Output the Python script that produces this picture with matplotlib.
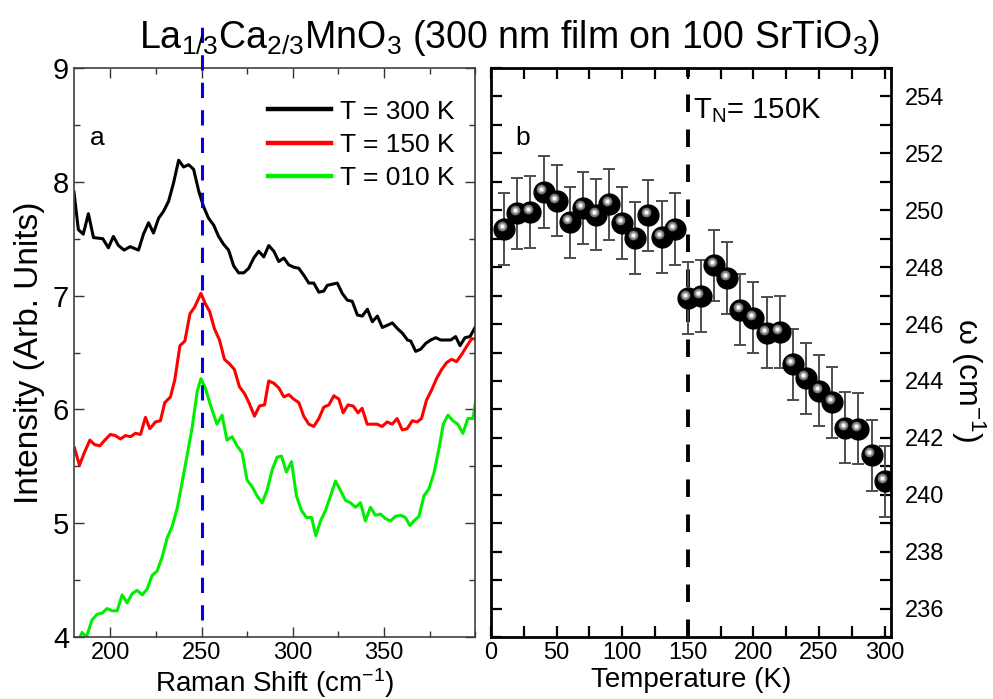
import matplotlib
matplotlib.use('Agg')
import matplotlib.pyplot as plt
from matplotlib.ticker import MultipleLocator
from matplotlib.transforms import offset_copy
import numpy as np

plt.rcParams['font.family'] = ['Liberation Sans', 'DejaVu Sans']
plt.rcParams['mathtext.fontset'] = 'custom'
plt.rcParams['mathtext.rm'] = 'Liberation Sans'
plt.rcParams['mathtext.it'] = 'Liberation Sans:italic'
plt.rcParams['mathtext.default'] = 'regular'

# --- panel a: Raman spectra ---
shift_300 = [180.0, 182.4, 185.1, 187.9, 190.7, 195.8, 198.9, 201.6, 204.4, 207.5,
             210.8, 215.4, 218.1, 220.9, 223.6, 226.4, 229.1, 231.9, 234.6, 237.4,
             240.1, 242.9, 245.6, 248.4, 251.1, 253.8, 256.6, 259.3, 262.1, 264.8,
             267.6, 270.3, 273.1, 275.8, 278.6, 281.3, 284.1, 286.8, 289.6, 292.3,
             295.1, 297.8, 300.5, 303.3, 306.0, 308.8, 311.5, 314.3, 317.0, 318.9,
             321.6, 324.4, 327.1, 329.9, 332.6, 335.4, 338.1, 340.9, 343.6, 346.4,
             349.1, 351.9, 354.6, 357.4, 360.1, 362.9, 364.7, 367.4, 370.2, 372.9,
             375.6, 378.4, 381.1, 383.8, 386.6, 389.3, 391.7, 394.4, 397.2, 400.3]
int_300 = [7.91, 7.58, 7.54, 7.72, 7.51, 7.50, 7.42, 7.52, 7.44, 7.40,
           7.43, 7.40, 7.54, 7.64, 7.55, 7.68, 7.74, 7.83, 7.99, 8.19,
           8.13, 8.15, 8.11, 7.92, 7.78, 7.68, 7.62, 7.52, 7.45, 7.40,
           7.26, 7.20, 7.20, 7.24, 7.33, 7.39, 7.34, 7.44, 7.39, 7.30,
           7.33, 7.27, 7.25, 7.24, 7.18, 7.11, 7.11, 7.03, 7.04, 7.09,
           7.10, 7.11, 7.02, 6.96, 6.95, 6.83, 6.82, 6.88, 6.77, 6.82,
           6.72, 6.74, 6.76, 6.71, 6.67, 6.61, 6.60, 6.51, 6.53, 6.58,
           6.61, 6.63, 6.61, 6.61, 6.61, 6.64, 6.56, 6.63, 6.64, 6.73]

shift_150 = [180.3, 183.0, 185.7, 188.7, 191.4, 194.2, 196.9, 200.0, 202.7, 205.5,
             208.2, 211.0, 213.7, 216.5, 219.2, 221.6, 224.7, 227.4, 229.8, 232.9,
             235.3, 238.1, 240.8, 243.6, 246.2, 249.6, 252.0, 254.4, 257.0, 259.8,
             262.5, 265.3, 268.0, 270.7, 273.5, 276.2, 279.0, 281.7, 284.5, 286.8,
             289.6, 292.3, 295.1, 297.8, 300.5, 303.3, 306.0, 308.8, 311.5, 314.3,
             317.0, 319.8, 322.5, 325.3, 327.6, 330.3, 333.1, 335.8, 338.0, 340.8,
             343.5, 346.2, 349.0, 351.7, 354.5, 357.2, 360.0, 362.7, 365.5, 368.2,
             370.6, 373.3, 376.1, 378.8, 381.6, 384.3, 387.0, 389.8, 392.5, 395.2,
             398.0, 400.2]
int_150 = [5.66, 5.51, 5.62, 5.73, 5.69, 5.68, 5.73, 5.78, 5.77, 5.74,
           5.77, 5.76, 5.79, 5.78, 5.93, 5.83, 5.89, 5.90, 6.06, 6.11,
           6.26, 6.56, 6.60, 6.84, 6.90, 7.02, 6.93, 6.86, 6.71, 6.61,
           6.44, 6.40, 6.35, 6.20, 6.14, 6.05, 5.94, 6.03, 6.04, 6.25,
           6.23, 6.19, 6.11, 6.13, 6.09, 6.06, 5.94, 5.87, 5.85, 5.92,
           6.02, 6.04, 6.12, 6.09, 5.97, 6.04, 6.03, 5.97, 6.01, 5.87,
           5.87, 5.87, 5.85, 5.89, 5.87, 5.92, 5.82, 5.83, 5.90, 5.89,
           5.92, 6.08, 6.17, 6.27, 6.35, 6.41, 6.44, 6.42, 6.48, 6.55,
           6.62, 6.62]

shift_010 = [180.3, 182.6, 184.4, 186.8, 189.9, 192.7, 195.4, 198.2, 200.9, 203.7,
             206.4, 209.1, 211.9, 214.6, 217.4, 220.1, 222.8, 225.6, 228.3, 231.1,
             233.8, 236.6, 239.3, 242.1, 244.8, 247.6, 249.6, 252.0, 254.8, 258.4,
             261.2, 263.9, 266.7, 269.4, 272.2, 274.9, 277.7, 280.4, 283.2, 285.9,
             288.7, 291.4, 293.8, 296.5, 299.3, 302.0, 304.8, 307.5, 310.3, 312.6,
             315.2, 317.9, 320.7, 323.4, 326.1, 328.9, 331.6, 334.4, 337.1, 339.8,
             342.6, 345.3, 348.1, 350.8, 353.6, 356.3, 359.1, 361.8, 364.2, 366.4,
             369.2, 371.9, 374.6, 377.4, 380.1, 382.5, 385.1, 387.8, 390.5, 393.3,
             396.0, 398.8, 400.2]
int_010 = [3.99, 3.97, 4.04, 4.00, 4.15, 4.20, 4.21, 4.25, 4.23, 4.23,
           4.37, 4.30, 4.38, 4.41, 4.37, 4.42, 4.54, 4.58, 4.70, 4.87,
           4.97, 5.13, 5.36, 5.60, 5.84, 6.16, 6.27, 6.19, 6.04, 5.87,
           5.95, 5.73, 5.76, 5.68, 5.62, 5.38, 5.32, 5.24, 5.18, 5.29,
           5.47, 5.58, 5.59, 5.45, 5.54, 5.24, 5.11, 5.05, 5.05, 4.89,
           5.02, 5.11, 5.24, 5.37, 5.29, 5.20, 5.18, 5.14, 5.18, 5.02,
           5.14, 5.07, 5.08, 5.04, 5.02, 5.06, 5.07, 5.05, 4.98, 5.02,
           5.06, 5.24, 5.30, 5.44, 5.65, 5.87, 5.95, 5.90, 5.87, 5.79,
           5.92, 5.92, 6.06]

peak_shift = 250

# --- panel b: phonon frequency vs temperature ---
temps = [10, 20, 30, 40, 50, 60, 70, 80, 90, 100, 110, 120, 130, 140, 150,
         160, 170, 180, 190, 200, 210, 220, 230, 240, 250, 260, 270, 280, 290, 300]
omega = [249.35, 249.90, 249.93, 250.65, 250.33, 249.58, 250.08, 249.85, 250.21, 249.55,
         249.02, 249.82, 249.06, 249.35, 246.91, 246.98, 248.06, 247.62, 246.51, 246.22,
         245.69, 245.72, 244.59, 244.09, 243.66, 243.25, 242.35, 242.32, 241.38, 240.48]
omega_err = [1.26, 1.25, 1.26, 1.26, 1.25, 1.25, 1.25, 1.26, 1.25, 1.25,
             1.26, 1.25, 1.25, 1.26, 1.26, 1.26, 1.25, 1.25, 1.26, 1.25,
             1.25, 1.26, 1.25, 1.25, 1.26, 1.25, 1.25, 1.25, 1.25, 1.25]
T_N = 150

fig = plt.figure(figsize=(9.93, 6.99), dpi=100)
ax1 = fig.add_axes([0.0745, 0.0887, 0.404, 0.814])
ax2 = fig.add_axes([0.4945, 0.0887, 0.403, 0.814])

# panel a
ax1.plot(shift_300, int_300, color='black', lw=2.2, label='T = 300 K')
ax1.plot(shift_150, int_150, color='#ff0000', lw=2.2, label='T = 150 K')
ax1.plot(shift_010, int_010, color='#00ee00', lw=2.2, label='T = 010 K')
ax1.plot([peak_shift, peak_shift], [4.15, 9.46], color='#0000ee', lw=2.2,
         ls=(0, (5, 4)), clip_on=False, zorder=5)
ax1.set_xlim(180, 400)
ax1.set_ylim(4, 9)
ax1.set_xticks([200, 250, 300, 350])
ax1.xaxis.set_minor_locator(MultipleLocator(25))
ax1.yaxis.set_major_locator(MultipleLocator(1))
ax1.yaxis.set_minor_locator(MultipleLocator(0.5))
ax1.tick_params(which='both', direction='in', top=True, right=True,
                labelsize=17, color='0.2')
ax1.tick_params(axis='y', labelsize=21)
ax1.tick_params(which='major', length=7, width=1)
ax1.tick_params(which='minor', length=4, width=1)
for s in ax1.spines.values():
    s.set_color('0.25')
    s.set_linewidth(1.2)
ax1.set_xlabel(r'Raman Shift (cm$^{-1}$)', fontsize=20, labelpad=2)
ax1.set_ylabel('Intensity (Arb. Units)', fontsize=24, labelpad=6)
ax1.text(0.04, 0.877, 'a', transform=ax1.transAxes, fontsize=19,
         ha='left', va='center')
leg = ax1.legend(loc='upper right', bbox_to_anchor=(0.995, 0.977), frameon=False,
                 fontsize=19, handlelength=2.4, handletextpad=0.35,
                 labelspacing=0.35, borderaxespad=0.3)
for line in leg.get_lines():
    line.set_linewidth(3.2)

# panel b
ax2.errorbar(temps, omega, yerr=omega_err, fmt='none', ecolor='0.3',
             elinewidth=1.4, capsize=4.5, capthick=1.4, zorder=2)
ax2.plot(temps, omega, 'o', color='black', ms=15, zorder=3)
hl = offset_copy(ax2.transData, fig=fig, x=-2.5, y=3, units='dots')
ax2.plot(temps, omega, 'o', color='0.45', mec='none', ms=7,
         transform=hl, zorder=4)
ax2.plot(temps, omega, 'o', color='0.75', mec='none', ms=4.4,
         transform=hl, zorder=5)
ax2.plot(temps, omega, 'o', color='white', mec='none', ms=2.4,
         transform=hl, zorder=6)
ax2.axvline(T_N, color='black', lw=2.8, ls=(0, (4.5, 4.5)), zorder=1)
ax2.set_xlim(0, 305)
ax2.set_ylim(235, 255)
ax2.xaxis.set_major_locator(MultipleLocator(50))
ax2.xaxis.set_minor_locator(MultipleLocator(25))
ax2.yaxis.set_major_locator(MultipleLocator(2))
ax2.yaxis.set_minor_locator(MultipleLocator(1))
ax2.set_yticks(np.arange(236, 255, 2))
ax2.tick_params(which='both', direction='in', top=True, left=True, right=True,
                labelleft=False, labelright=True, labelsize=17)
ax2.tick_params(which='major', length=8, width=1.6)
ax2.tick_params(which='minor', length=8, width=1.6)
ax2.tick_params(axis='y', pad=10)
for s in ax2.spines.values():
    s.set_linewidth(2)
ax2.set_xlabel('Temperature (K)', fontsize=20, labelpad=2)
ax2.yaxis.set_label_position('right')
ax2.set_ylabel(r'$\omega$ (cm$^{-1}$)', fontsize=23, rotation=-90)
ax2.yaxis.set_label_coords(1.24, 0.452)
ax2.text(0.06, 0.877, 'b', transform=ax2.transAxes, fontsize=19,
         ha='left', va='center')
ax2.text(0.505, 0.926, r'T$_N$= 150K', transform=ax2.transAxes, fontsize=21,
         ha='left', va='center')

fig.text(0.513, 0.945,
         r'La$_{1/3}$Ca$_{2/3}$MnO$_3$ (300 nm film on 100 SrTiO$_3$)',
         fontsize=27, ha='center', va='center')

fig.savefig('out.png', dpi=100)
